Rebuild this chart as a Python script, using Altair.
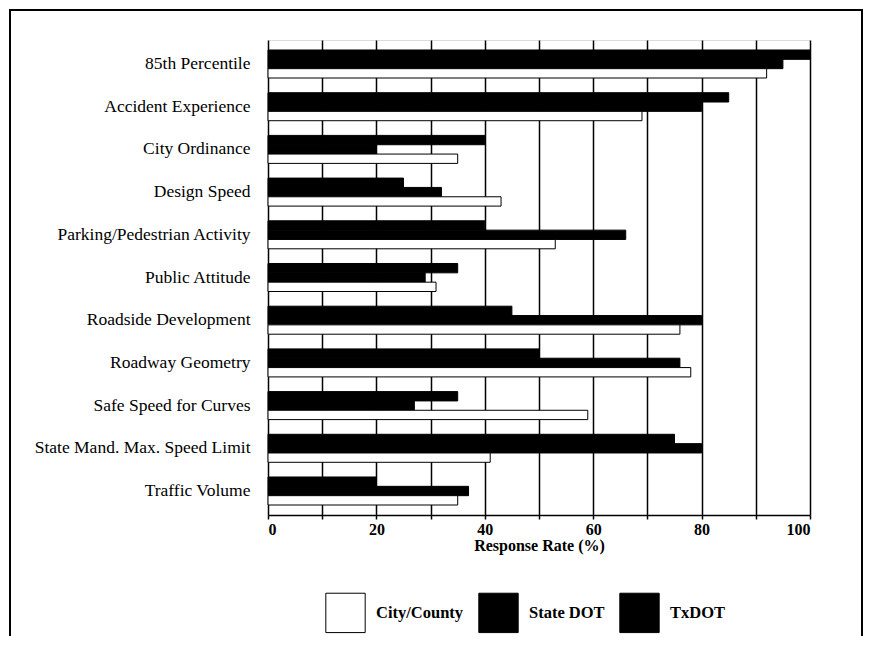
import altair as alt
import pandas as pd

categories = ["85th Percentile", "Accident Experience", "City Ordinance", "Design Speed",
              "Parking/Pedestrian Activity", "Public Attitude", "Roadside Development",
              "Roadway Geometry", "Safe Speed for Curves", "State Mand. Max. Speed Limit",
              "Traffic Volume"]
series = ["City/County", "State DOT", "TxDOT"]
txdot = [100, 85, 40, 25, 40, 35, 45, 50, 35, 75, 20]
state_dot = [95, 80, 20, 32, 66, 29, 80, 76, 27, 80, 37]
city_county = [92, 69, 35, 43, 53, 31, 76, 78, 59, 41, 35]
colors = ["white", "black", "black"]
x_ticks = list(range(0, 101, 10))

rows = []
for i, c in enumerate(categories):
    rows.append({"cat": c, "series": "TxDOT", "value": txdot[i]})
    rows.append({"cat": c, "series": "State DOT", "value": state_dot[i]})
    rows.append({"cat": c, "series": "City/County", "value": city_county[i]})
df = pd.DataFrame(rows)

FONT = "Liberation Serif, Times New Roman, serif"

bars = alt.Chart(df).mark_bar(stroke="black", strokeWidth=1, opacity=1).encode(
    x=alt.X("value:Q",
            scale=alt.Scale(domain=[0, 100], nice=False, zero=True),
            axis=alt.Axis(values=x_ticks, title="Response Rate (%)",
                          labelExpr="datum.value % 20 == 0 ? datum.label : ''",
                          grid=True, gridColor="black", gridWidth=1.5, gridOpacity=1,
                          domainColor="black", domainWidth=1.5,
                          tickColor="black", tickSize=4, tickWidth=1.5,
                          labelFont=FONT, labelFontSize=16, labelFontWeight="bold",
                          labelColor="black", labelPadding=2,
                          titleFont=FONT, titleFontSize=16, titleFontWeight="bold",
                          titleColor="black", titlePadding=0)),
    y=alt.Y("cat:N", sort=categories,
            scale=alt.Scale(paddingInner=0.344, paddingOuter=0.234),
            axis=alt.Axis(title=None, ticks=False, domain=False, grid=False,
                          labelFont=FONT, labelFontSize=17.5, labelColor="black",
                          labelPadding=18, labelLimit=400)),
    yOffset=alt.YOffset("series:N", sort=["TxDOT", "State DOT", "City/County"],
                        scale=alt.Scale(paddingInner=0, paddingOuter=0)),
    color=alt.Color("series:N",
                    scale=alt.Scale(domain=series, range=colors),
                    legend=alt.Legend(title=None, orient="none", direction="horizontal",
                                      legendX=57, legendY=552,
                                      symbolType="square", symbolSize=1550,
                                      symbolStrokeColor="black", symbolStrokeWidth=1,
                                      symbolOpacity=1,
                                      labelFont=FONT, labelFontSize=16.5,
                                      labelFontWeight="bold", labelColor="black",
                                      labelOffset=10, columnPadding=12,
                                      symbolOffset=0)),
)

border = alt.Chart(pd.DataFrame({"k": [0]})).mark_rect(
    fill=None, stroke="black", strokeWidth=2
).encode(
    x=alt.value(-258), x2=alt.value(594), y=alt.value(-30), y2=alt.value(700)
)

chart = alt.layer(border, bars).properties(
    width=542, height=475,
    autosize=alt.AutoSizeParams(type="none"),
    padding={"left": 260, "top": 32, "right": 54, "bottom": 121},
).configure_view(stroke="black", strokeWidth=1.5).configure(background="white")

chart.save("out.html", embed_options={"renderer": "svg", "actions": False})
